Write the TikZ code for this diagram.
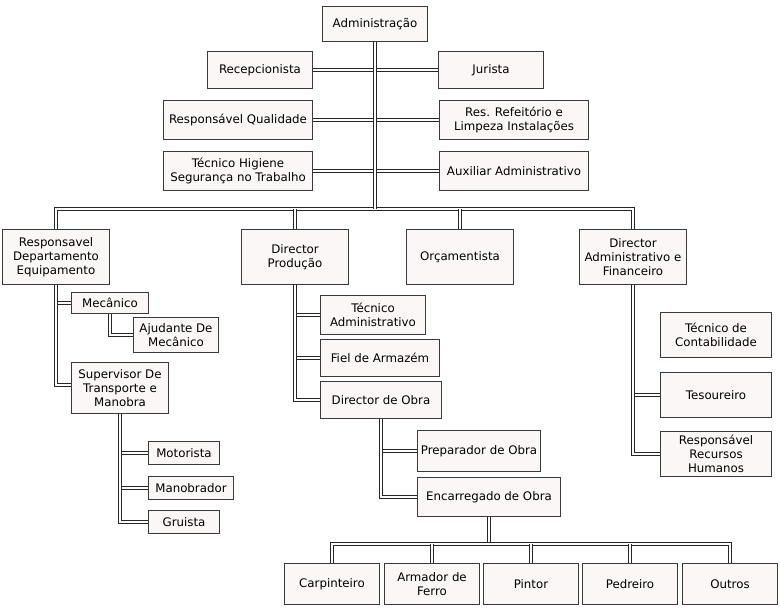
\documentclass[tikz,border=0pt]{standalone}
\usepackage{fontspec}
\setmainfont{DejaVu Sans}
\definecolor{boxfill}{HTML}{FAF7F6}
\definecolor{boxline}{HTML}{3A3A3A}
\begin{document}
\begin{tikzpicture}[x=1pt,y=-1pt,
  box/.style={draw=boxline, fill=boxfill, line width=1pt, align=center, inner sep=1pt,
    font=\fontsize{11.8}{14}\selectfont},
  link/.style={draw=black!85, double=white, line width=1pt, double distance=2pt}]
\useasboundingbox[fill=white] (0,0) rectangle (780,612);
\newcommand{\bx}[6]{\node[box, minimum width=#4, minimum height=#5] (#1) at (#2,#3) {#6};}
\bx{admin}{375}{24}{105}{35}{Administração}
\bx{recep}{260}{70}{105}{37}{Recepcionista}
\bx{jur}{491}{70}{105}{37}{Jurista}
\bx{qual}{238}{120}{149}{39}{Responsável Qualidade}
\bx{refeit}{514}{120}{149}{39}{Res. Refeitório e\\Limpeza Instalações}
\bx{hig}{238}{171}{149}{39}{Técnico Higiene\\Segurança no Trabalho}
\bx{aux}{514}{171}{149}{39}{Auxiliar Administrativo}
\bx{equip}{56}{257}{107}{55}{Responsavel\\Departamento\\Equipamento}
\bx{prod}{295}{257}{107}{55}{Director\\Produção}
\bx{orc}{460}{257}{107}{55}{Orçamentista}
\bx{daf}{633}{257}{107}{55}{Director\\Administrativo e\\Financeiro}
\bx{mec}{110}{303}{77}{21}{Mecânico}
\bx{ajud}{176}{335}{85}{35}{Ajudante De\\Mecânico}
\bx{sup}{120}{388}{97}{51}{Supervisor De\\Transporte e\\Manobra}
\bx{mot}{184}{453}{71}{23}{Motorista}
\bx{man}{191}{488}{85}{23}{Manobrador}
\bx{grui}{184}{522}{71}{23}{Gruista}
\bx{tadm}{373}{315}{105}{39}{Técnico\\Administrativo}
\bx{fiel}{380}{358}{119}{37}{Fiel de Armazém}
\bx{dobra}{381}{400}{121}{37}{Director de Obra}
\bx{prep}{479}{451}{123}{41}{Preparador de Obra}
\bx{enc}{489}{497}{143}{39}{Encarregado de Obra}
\bx{tcont}{716}{335}{111}{45}{Técnico de\\Contabilidade}
\bx{tes}{716}{395}{111}{45}{Tesoureiro}
\bx{rh}{716}{454}{111}{45}{Responsável\\Recursos\\Humanos}
\bx{carp}{332}{584}{95}{41}{Carpinteiro}
\bx{arm}{432}{584}{95}{41}{Armador de\\Ferro}
\bx{pint}{531}{584}{95}{41}{Pintor}
\bx{ped}{630}{584}{95}{41}{Pedreiro}
\bx{out}{730}{584}{95}{41}{Outros}
\coordinate (bar) at (0,209);
\coordinate (bar2) at (0,544);
% top level links
\draw[link] (recep.east) -- (jur.west);
\draw[link] (qual.east) -- (refeit.west);
\draw[link] (hig.east) -- (aux.west);
\draw[link] (equip.north) -- (equip.north |- bar) -- (daf.north |- bar) -- (daf.north);
\draw[link] (prod.north) -- (prod.north |- bar);
\draw[link] (orc.north) -- (orc.north |- bar);
\draw[link] (admin.south) -- (admin.south |- bar);
% equipment branch
\draw[link] (equip.south) |- (mec.west);
\draw[link] (equip.south) |- ([yshift=3pt]sup.west);
\draw[link] (mec.south) |- (ajud.west);
\draw[link] (sup.south) |- (mot.west);
\draw[link] (sup.south) |- (man.west);
\draw[link] (sup.south) |- (grui.west);
% production branch
\draw[link] (prod.south) |- (tadm.west);
\draw[link] (prod.south) |- (fiel.west);
\draw[link] (prod.south) |- (dobra.west);
\draw[link] (dobra.south) |- (prep.west);
\draw[link] (dobra.south) |- (enc.west);
\draw[link] (enc.south) -- (enc.south |- bar2);
\draw[link] (carp.north) -- (carp.north |- bar2) -- (out.north |- bar2) -- (out.north);
\draw[link] (arm.north) -- (arm.north |- bar2);
\draw[link] (pint.north) -- (pint.north |- bar2);
\draw[link] (ped.north) -- (ped.north |- bar2);
% admin/finance branch
\draw[link] (daf.south) |- (tes.west);
\draw[link] (daf.south) |- (rh.west);
\end{tikzpicture}
\end{document}
